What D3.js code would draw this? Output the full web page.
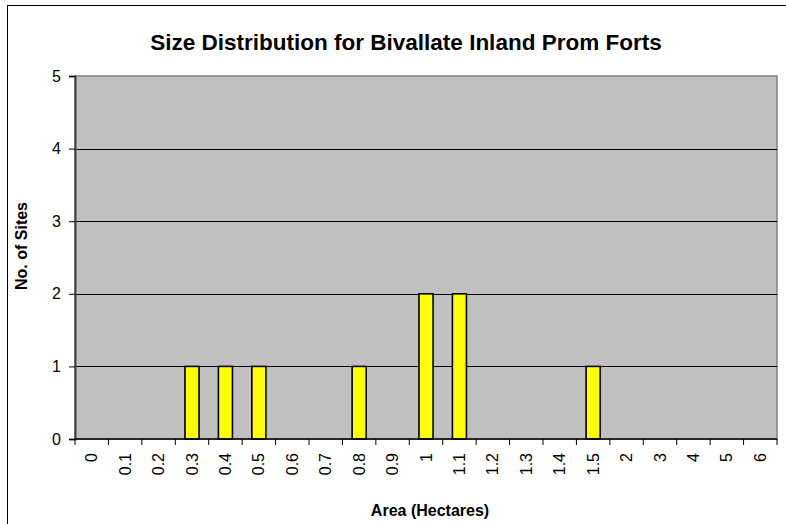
<!DOCTYPE html>
<html>
<head>
<meta charset="utf-8">
<script src="https://cdn.jsdelivr.net/npm/d3@7"></script>
<style>
  html, body { margin: 0; padding: 0; background: #fff; }
  svg { display: block; font-family: Arial, "Liberation Sans", sans-serif; }
</style>
</head>
<body>
<svg id="chart" width="786" height="524"></svg>
<script>
// Area classes (hectares) and number of sites in each
const areaClasses = ["0", "0.1", "0.2", "0.3", "0.4", "0.5", "0.6", "0.7", "0.8", "0.9",
                     "1", "1.1", "1.2", "1.3", "1.4", "1.5", "2", "3", "4", "5", "6"];
const siteCounts  = [0, 0, 0, 1, 1, 1, 0, 0, 1, 0,
                     2, 2, 0, 0, 0, 1, 0, 0, 0, 0, 0];
const countTicks  = [0, 1, 2, 3, 4, 5];

const FONT = "Arial, 'Liberation Sans', sans-serif";
const svg = d3.select("#chart");
const plot = { left: 75, right: 777, top: 76, bottom: 439 };

// Outer frame
svg.append("rect")
  .attr("x", 7.5).attr("y", 5.5)
  .attr("width", 790).attr("height", 530)
  .attr("fill", "#fff").attr("stroke", "#000").attr("stroke-width", 1);

const x = d3.scaleBand().domain(areaClasses)
  .range([plot.left, plot.right]).paddingInner(0.58).paddingOuter(0.29);
const xEdge = d3.scaleLinear().domain([0, areaClasses.length]).range([plot.left, plot.right]);
const y = d3.scaleLinear().domain([0, 5]).range([plot.bottom, plot.top]);

// Plot background
svg.append("rect")
  .attr("x", plot.left).attr("y", plot.top)
  .attr("width", plot.right - plot.left).attr("height", plot.bottom - plot.top)
  .attr("fill", "#c0c0c0").attr("stroke", "#808080").attr("stroke-width", 1.5);

// Gridlines
svg.append("g").selectAll("line")
  .data(countTicks.filter(d => d > 0 && d < 5))
  .join("line")
  .attr("x1", plot.left).attr("x2", plot.right)
  .attr("y1", d => Math.round(y(d)) + 0.5).attr("y2", d => Math.round(y(d)) + 0.5)
  .attr("stroke", "#000").attr("stroke-width", 1);

// Bars
svg.append("g").selectAll("rect")
  .data(areaClasses.map((c, i) => ({ c, v: siteCounts[i] })).filter(d => d.v > 0))
  .join("rect")
  .attr("x", d => x(d.c))
  .attr("y", d => y(d.v))
  .attr("width", x.bandwidth())
  .attr("height", d => y(0) - y(d.v))
  .attr("fill", "#ffff00").attr("stroke", "#000").attr("stroke-width", 1.6);

// Y axis
const yAxis = d3.axisLeft(y).tickValues(countTicks).tickFormat(d3.format("d"))
  .tickSize(6).tickPadding(8);
const gy = svg.append("g").attr("transform", `translate(${plot.left},0)`).call(yAxis);
gy.select(".domain").attr("stroke", "#404040").attr("stroke-width", 2);
gy.selectAll(".tick line").attr("stroke", "#000");
gy.selectAll(".tick text").attr("font-size", 16).attr("fill", "#000")
  .attr("font-family", FONT);

// X axis: ticks sit on category boundaries
const gx = svg.append("g").attr("transform", `translate(0,${plot.bottom})`);
gx.append("line").attr("x1", plot.left).attr("x2", plot.right)
  .attr("y1", 0).attr("y2", 0).attr("stroke", "#000").attr("stroke-width", 1.5);
gx.selectAll("line.tk").data(d3.range(areaClasses.length + 1)).join("line")
  .attr("class", "tk")
  .attr("x1", d => xEdge(d)).attr("x2", d => xEdge(d))
  .attr("y1", 0).attr("y2", 6).attr("stroke", "#000");
gx.selectAll("text").data(areaClasses).join("text")
  .attr("transform", d => `translate(${x(d) + x.bandwidth() / 2 + 5.5},14) rotate(-90)`)
  .attr("text-anchor", "end")
  .attr("font-size", 16)
  .attr("font-family", FONT)
  .text(d => d);

// Titles
svg.append("text").attr("x", 406).attr("y", 50)
  .attr("text-anchor", "middle").attr("font-size", 22.5).attr("font-weight", "bold")
  .text("Size Distribution for Bivallate Inland Prom Forts");
svg.append("text").attr("transform", "translate(27,246) rotate(-90)")
  .attr("text-anchor", "middle").attr("font-size", 16).attr("font-weight", "bold")
  .text("No. of Sites");
svg.append("text").attr("x", 430).attr("y", 516)
  .attr("text-anchor", "middle").attr("font-size", 16).attr("font-weight", "bold")
  .text("Area (Hectares)");
</script>
</body>
</html>
